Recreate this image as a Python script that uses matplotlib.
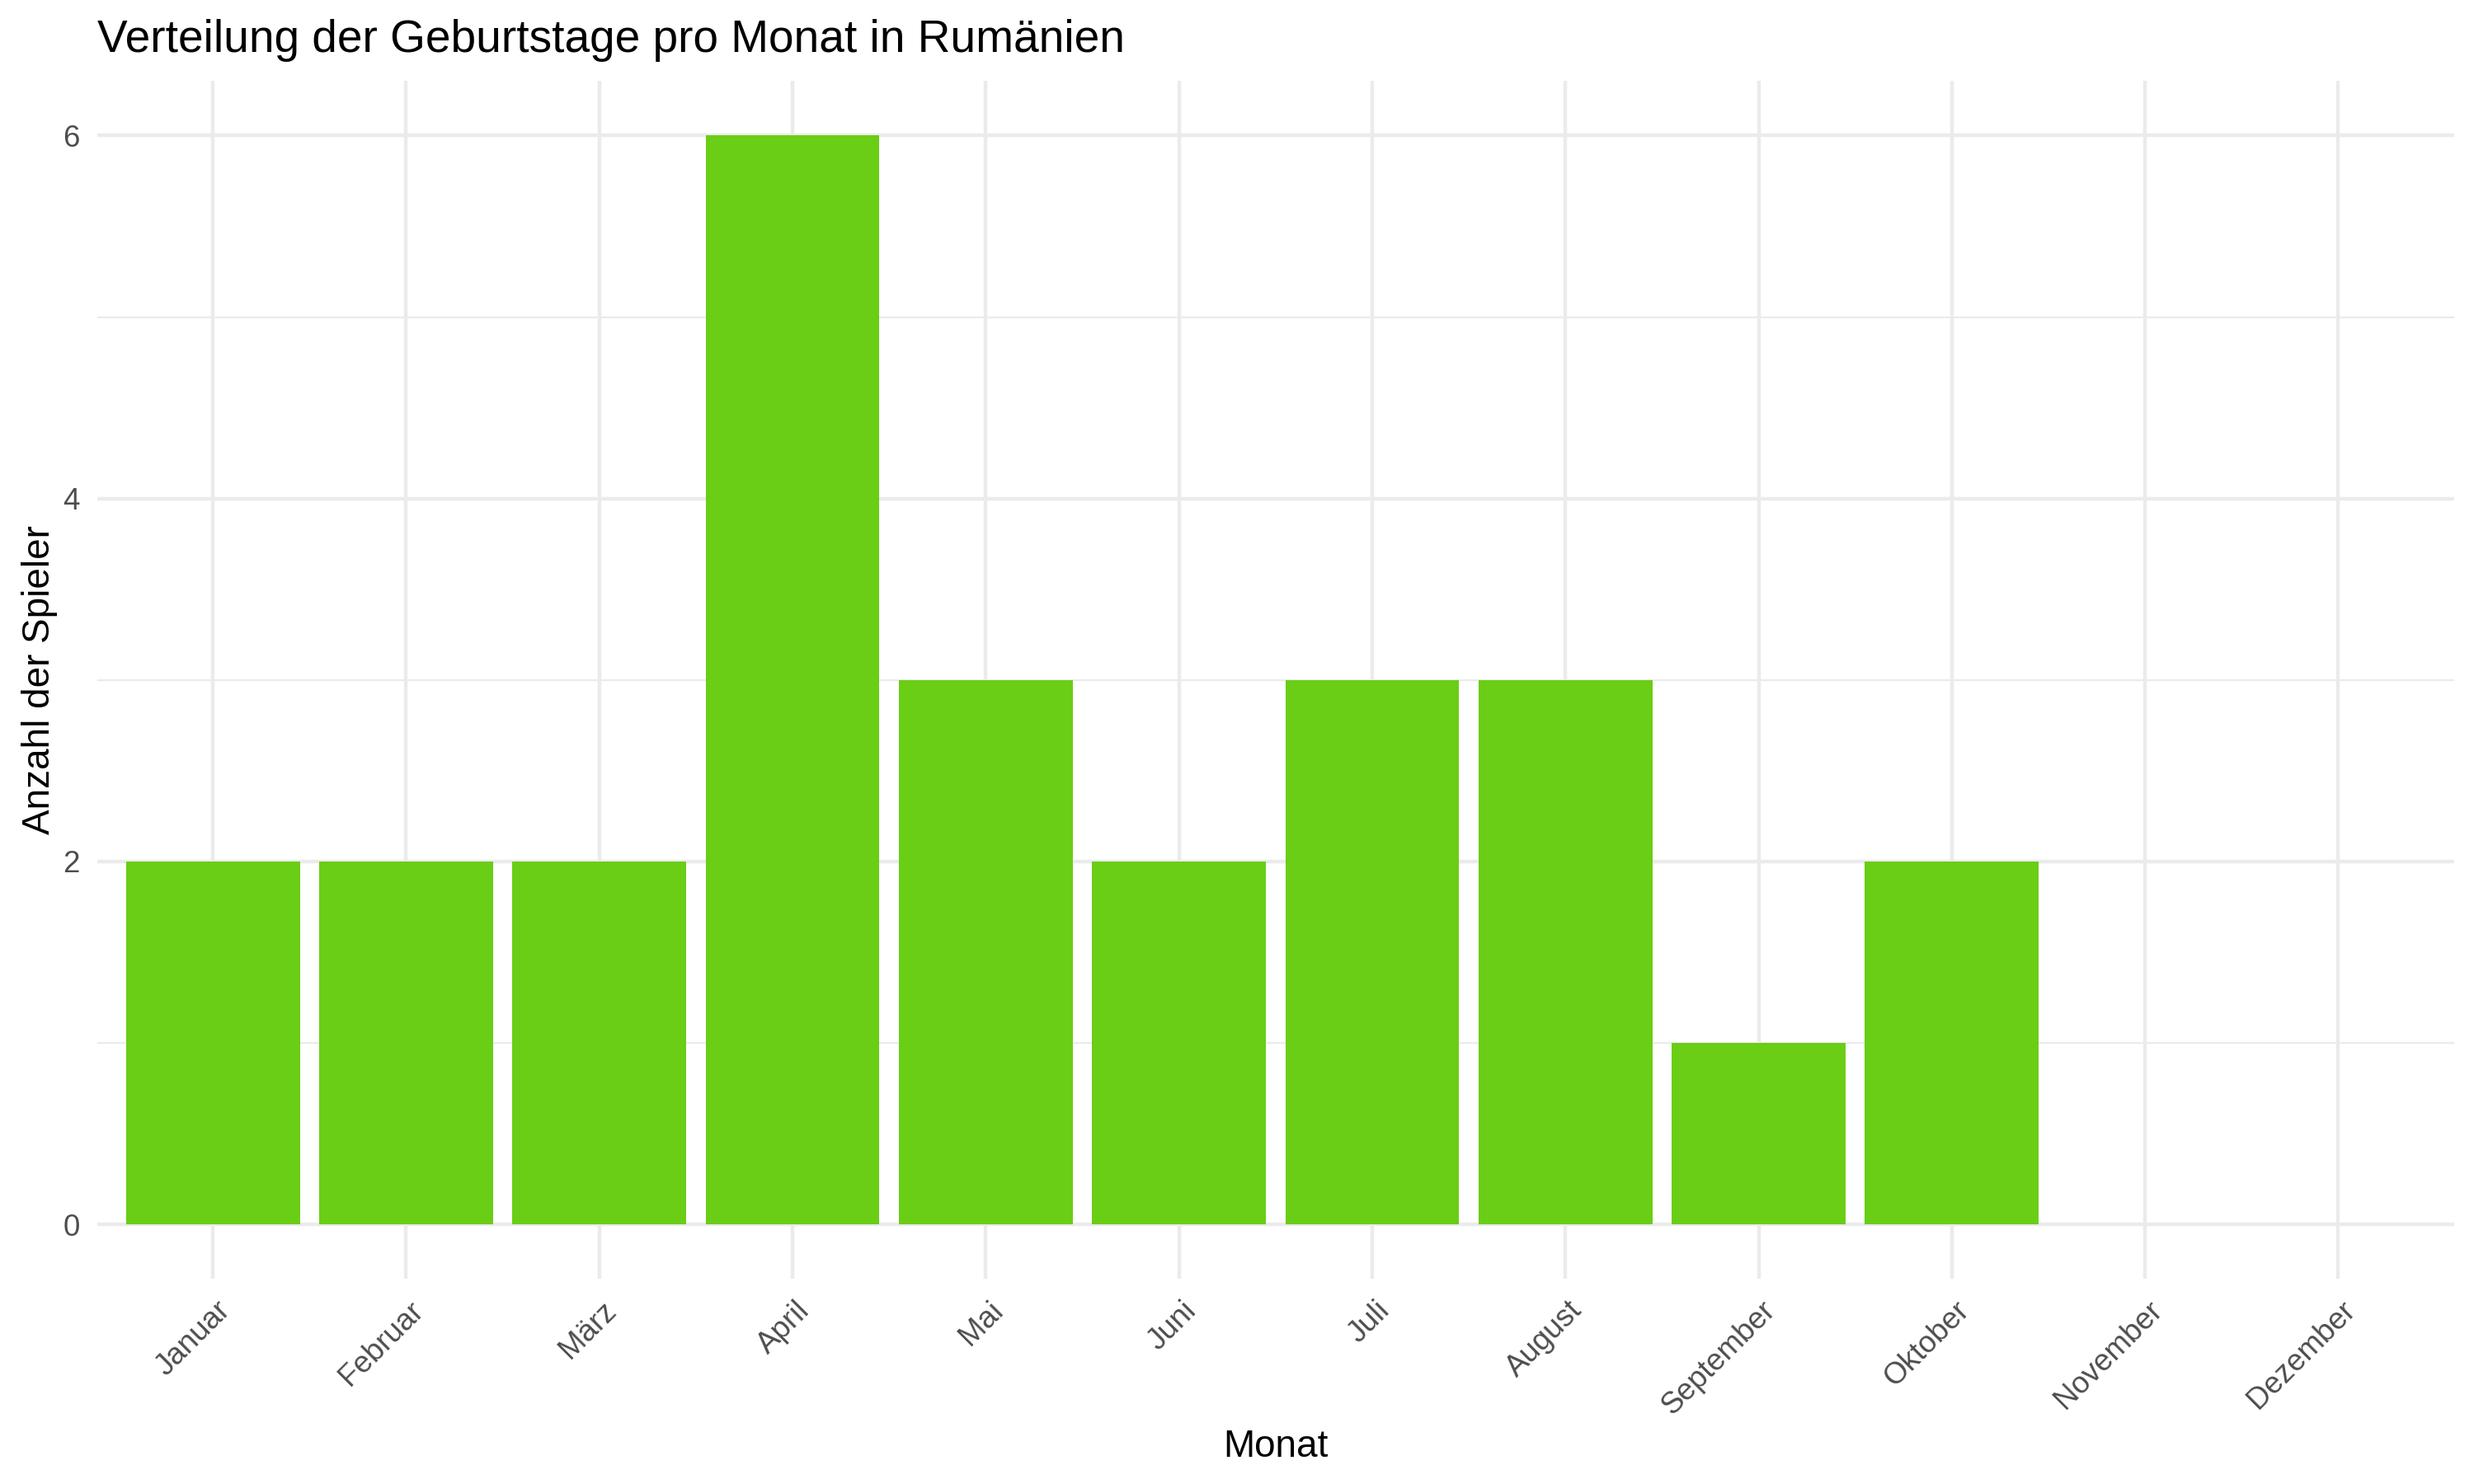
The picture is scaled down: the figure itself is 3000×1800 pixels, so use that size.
import matplotlib
matplotlib.use("Agg")
import matplotlib.pyplot as plt
import numpy as np

plt.rcParams['font.family'] = ['Liberation Sans', 'DejaVu Sans']

months = ["Januar", "Februar", "März", "April", "Mai", "Juni",
          "Juli", "August", "September", "Oktober", "November", "Dezember"]
counts = [2, 2, 2, 6, 3, 2, 3, 3, 1, 2, 0, 0]

BAR_COLOR = "#6ACD16"
GRID_COLOR = "#EBEBEB"

fig = plt.figure(figsize=(10, 6), dpi=300)
ax = fig.add_axes([0.0392, 0.1383, 0.9528, 0.807])

x = np.arange(len(months))
ax.bar(x, counts, width=0.9, color=BAR_COLOR, zorder=3)

ax.set_xlim(-0.6, len(months) - 1 + 0.6)
ax.set_ylim(-0.3, 6.3)
ax.set_xticks(x)
ax.set_xticklabels(months, rotation=45, ha='right', va='top',
                   rotation_mode='anchor', fontsize=8.8, color='#4D4D4D')
ax.set_yticks([0, 2, 4, 6])
ax.set_yticks([1, 3, 5], minor=True)
ax.tick_params(axis='y', labelsize=8.8, labelcolor='#4D4D4D', length=0, pad=5)
ax.tick_params(axis='x', length=0, pad=5)
ax.tick_params(which='minor', length=0)

# nudge rotated month labels slightly to the right, like ggplot's hjust=1
import matplotlib.transforms as mtrans
offset = mtrans.ScaledTranslation(3 / 300, 0, fig.dpi_scale_trans)
for lbl in ax.get_xticklabels():
    lbl.set_transform(lbl.get_transform() + offset)

ax.grid(True, which='major', color=GRID_COLOR, linewidth=1.07, zorder=0)
ax.grid(True, which='minor', axis='y', color=GRID_COLOR, linewidth=0.53, zorder=0)
for s in ax.spines.values():
    s.set_visible(False)

ax.set_xlabel("Monat", fontsize=11, labelpad=2.3)
ax.set_ylabel("Anzahl der Spieler", fontsize=11, labelpad=1.5)
ax.set_title("Verteilung der Geburtstage pro Monat in Rumänien",
             fontsize=13.2, loc='left', pad=8.4)

fig.savefig("out.png", dpi=300)
